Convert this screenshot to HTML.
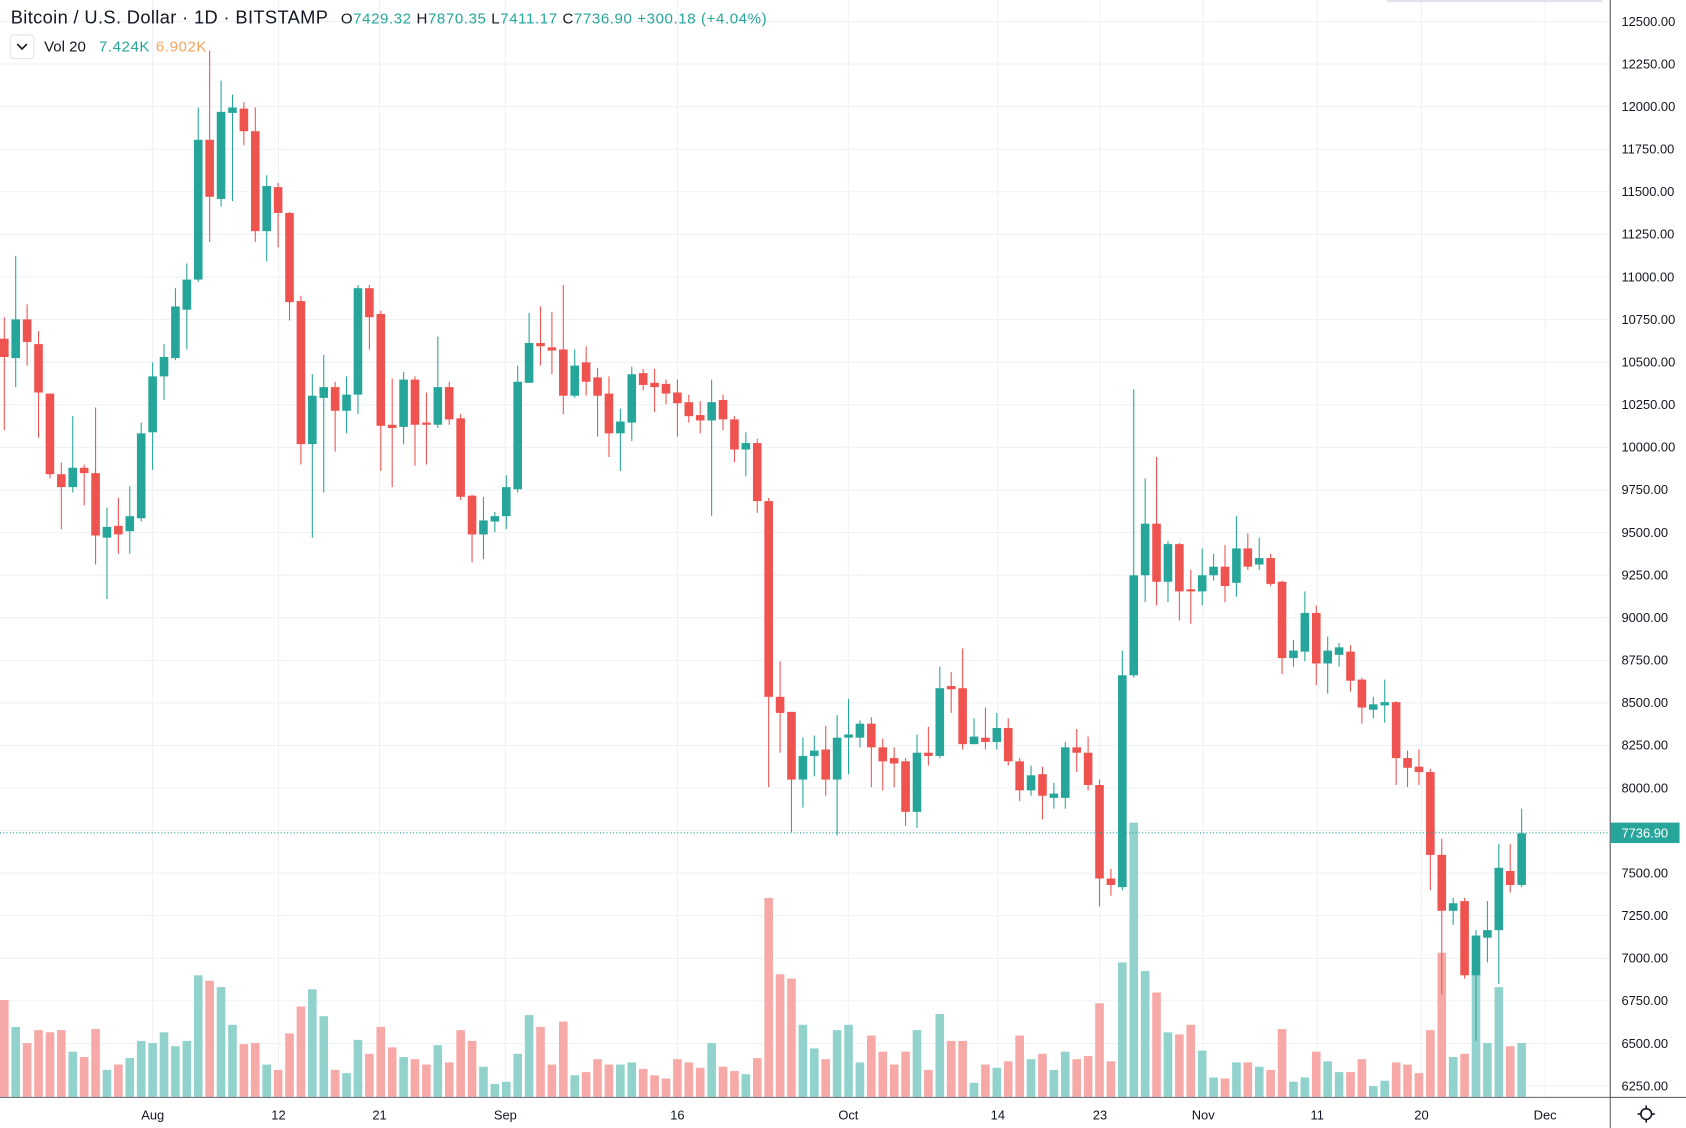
<!DOCTYPE html>
<html><head><meta charset="utf-8"><style>
html,body{margin:0;padding:0;background:#fff;overflow:hidden}
svg{display:block;font-family:"Liberation Sans",sans-serif}
</style></head><body>
<svg id="s" width="1686" height="1128" viewBox="0 0 1568 1049" preserveAspectRatio="none" xmlns="http://www.w3.org/2000/svg">
<rect width="1568" height="1049" fill="#fff"/>
<g id="grid" stroke="#eef1f7" stroke-width="1"></g>
<g id="vol"></g>
<g id="cand"></g>
<line x1="0" y1="774.5" x2="1497" y2="774.5" stroke="#26a69a" stroke-dasharray="1,2" stroke-width="1"/>
<rect x="1497" y="0" width="71" height="1049" fill="#fff"/>
<line x1="1497.5" y1="0" x2="1497.5" y2="1049" stroke="#50535e" stroke-width="1"/>
<line x1="0" y1="1020.5" x2="1568" y2="1020.5" stroke="#50535e" stroke-width="1"/>
<rect x="0" y="1021" width="1497" height="28" fill="#fff"/>
<g id="plab" font-size="12" fill="#131722"></g>
<rect x="1498" y="765" width="64" height="19" fill="#26a69a"/>
<text x="1508" y="779" font-size="12" fill="#fff">7736.90</text>
<g font-size="12" fill="#131722" text-anchor="middle">
<text x="142" y="1041">Aug</text><text x="259" y="1041">12</text><text x="353" y="1041">21</text>
<text x="470" y="1041">Sep</text><text x="630" y="1041">16</text><text x="789" y="1041">Oct</text>
<text x="928" y="1041">14</text><text x="1023" y="1041">23</text><text x="1119" y="1041">Nov</text>
<text x="1225" y="1041">11</text><text x="1322" y="1041">20</text><text x="1437" y="1041">Dec</text>
</g>
<circle cx="1531" cy="1036" r="5" fill="none" stroke="#131722" stroke-width="1.5"/>
<g stroke="#131722" stroke-width="1.5"><line x1="1531" y1="1028" x2="1531" y2="1031"/><line x1="1531" y1="1041" x2="1531" y2="1044"/><line x1="1523" y1="1036" x2="1526" y2="1036"/><line x1="1536" y1="1036" x2="1539" y2="1036"/></g>
<rect x="1290" y="0" width="200" height="2" fill="#e0e3eb"/>
<text x="10" y="22" font-size="17" fill="#131722" textLength="295" lengthAdjust="spacing">Bitcoin / U.S. Dollar · 1D · BITSTAMP</text>
<text x="317" y="22" font-size="14" fill="#131722" textLength="396" lengthAdjust="spacing">O<tspan fill="#26a69a">7429.32</tspan> H<tspan fill="#26a69a">7870.35</tspan> L<tspan fill="#26a69a">7411.17</tspan> C<tspan fill="#26a69a">7736.90</tspan> <tspan fill="#26a69a">+300.18 (+4.04%)</tspan></text>
<rect x="9.5" y="32.5" width="22" height="22" rx="3" fill="#fff" stroke="#e0e3eb"/>
<polyline points="16,41 20.5,45.5 25,41" fill="none" stroke="#131722" stroke-width="1.5"/>
<text x="41" y="48" font-size="14" fill="#131722">Vol 20</text>
<text x="92" y="48" font-size="14" fill="#26a69a" textLength="47">7.424K</text>
<text x="145" y="48" font-size="14" fill="#f7a35c" textLength="47">6.902K</text>
</svg>
<script>
var NS="http://www.w3.org/2000/svg";
function el(p,t,a){var e=document.createElementNS(NS,t);for(var k in a)e.setAttribute(k,a[k]);p.appendChild(e);return e;}
var grid=document.getElementById('grid'),pl=document.getElementById('plab');
for(var i=0;i<=25;i++){var y=20+i*39.6;el(grid,'line',{x1:0,x2:1497,y1:y,y2:y});
var p=12500-i*250;var t=el(pl,'text',{x:1508,y:y+4});t.textContent=p.toFixed(2);}
[142,259,353,470,630,789,928,1023,1119,1225,1322,1437].forEach(function(x){el(grid,'line',{x1:x,x2:x,y1:0,y2:1020});});
var D=[
['r',295,315,332,400,930],['g',238,297,333,360,955],['r',283,297,318,340,970],['r',308,320,365,407,958],['r',366,366,441,445,960],
['r',430,441,453,492,958],['g',387,435,453,458,978],['r',432,435,440,470,983],['r',379,440,498,525,957],['g',472,490,500,557,995],
['r',463,489,497,515,990],['g',452,480,494,515,984],['g',393,403,482,485,968],['g',337,350,402,437,970],['g',320,332,350,372,960],
['g',268,285,333,335,973],['g',245,260,288,325,968],['g',100,130,260,262,907],['r',47,130,183,225,912],['g',75,104,185,192,918],
['g',88,100,105,187,953],['r',95,101,122,135,971],['r',100,122,215,225,970],['g',163,173,215,243,990],['r',170,174,198,230,995],
['r',197,198,281,298,961],['r',275,280,413,432,936],['g',348,368,413,500,920],['g',330,360,370,458,945],['r',355,360,382,420,995],
['g',350,367,382,403,998],['g',265,268,367,385,967],['r',265,268,295,325,980],['r',289,292,396,438,955],['r',352,395,398,453,974],
['g',346,353,397,413,983],['r',350,353,395,433,985],['r',365,393,395,432,990],['g',313,360,395,398,972],['r',355,360,390,395,988],
['r',385,389,462,465,958],['r',460,461,497,523,968],['g',462,484,497,520,992],['g',476,480,485,495,1008],['g',442,453,480,492,1006],
['g',340,355,455,458,980],['g',291,319,356,356,944],['r',285,319,322,340,955],['r',290,323,326,348,990],['r',265,325,368,385,950],
['g',325,340,368,370,1000],['r',322,337,355,368,997],['r',342,351,368,406,985],['r',350,366,403,425,990],['g',380,392,403,438,990],
['g',341,348,393,410,988],['r',343,347,358,363,994],['r',343,356,360,383,1000],['r',353,357,366,376,1003],['r',353,365,375,406,985],
['r',367,374,387,393,988],['r',373,386,391,403,993],['g',353,374,391,480,970],['r',367,372,390,400,992],['r',387,390,418,430,996],
['g',402,412,418,443,999],['r',408,412,466,477,984],['r',463,466,648,732,835],['r',615,648,663,700,906],['r',662,662,725,774,910],
['g',686,703,725,751,953],['g',684,698,703,722,975],['r',675,697,725,740,985],['g',665,686,725,777,958],['g',650,683,686,720,953],
['g',670,673,686,695,988],['r',667,673,695,732,963],['r',687,695,708,735,978],['r',695,705,710,732,990],['r',705,708,755,768,978],
['g',683,700,755,770,958],['r',676,700,703,712,995],['g',620,640,703,705,943],['r',625,638,641,663,968],['r',603,640,692,697,968],
['g',668,685,692,692,1007],['r',658,686,690,697,990],['g',663,677,690,697,993],['r',668,677,708,712,987],['r',705,708,735,745,963],
['g',712,721,735,740,985],['r',713,720,740,762,980],['g',728,738,742,752,995],['g',690,695,742,752,978],['r',678,695,700,718,985],
['r',685,700,730,735,982],['r',725,730,817,843,933],['r',808,817,823,833,987],['g',605,628,825,828,895],['g',362,535,628,630,765],
['g',445,487,535,560,903],['r',425,487,541,563,923],['g',503,506,541,560,960],['r',505,506,550,577,962],['r',530,548,550,580,953],
['g',510,535,550,563,977],['g',515,527,535,540,1002],['r',507,527,545,560,1003],['g',480,510,542,555,988],['r',496,510,527,530,988],
['g',500,519,525,530,992],['r',515,519,543,545,995],['r',540,541,612,627,957],['g',595,605,612,620,1006],['g',550,570,606,615,1002],
['r',563,570,617,637,978],['g',592,605,617,645,987],['g',598,602,609,620,997],['r',600,606,633,643,997],['r',630,632,658,673,985],
['g',648,655,660,668,1010],['g',632,653,656,672,1005],['r',652,653,705,730,988],['r',698,705,714,732,990],['r',697,713,718,730,998],
['r',715,718,795,828,958],['r',780,795,847,925,886],['g',835,840,847,860,983],['r',835,838,907,910,980],['g',865,870,907,968,903],
['g',838,865,872,895,970],['g',785,807,865,915,918],['r',785,810,823,830,973],['g',752,775,823,825,970]];
var V=document.getElementById('vol'),C=document.getElementById('cand');
D.forEach(function(d,i){var x=4+i*10.61;var col=d[0]=='g'?'#26a69a':'#ef5350';var vc=d[0]=='g'?'#92d2cc':'#f7a9a7';
el(V,'rect',{x:x-4,y:d[5],width:8,height:1020-d[5],fill:vc});
el(C,'line',{x1:x,x2:x,y1:d[1],y2:d[4],stroke:col,'stroke-width':1});
el(C,'rect',{x:x-4,y:d[2],width:8,height:Math.max(1,d[3]-d[2]),fill:col});});
</script>
</body></html>
